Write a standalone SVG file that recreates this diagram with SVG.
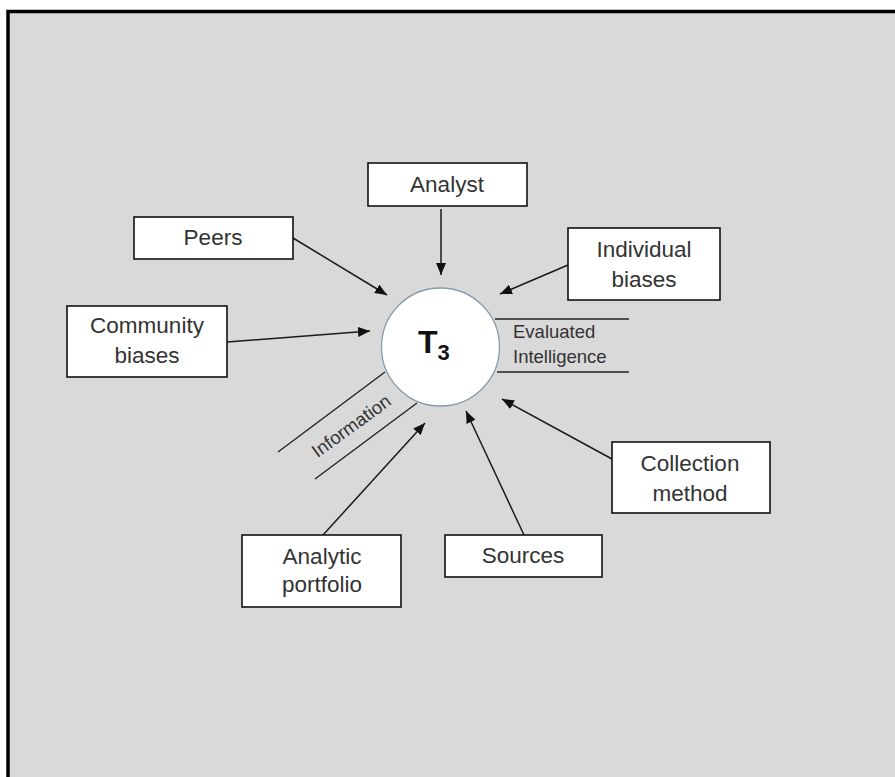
<svg xmlns="http://www.w3.org/2000/svg" width="895" height="777" viewBox="0 0 895 777">
<style>
.box{fill:#fff;stroke:#111;stroke-width:1.6}
.lbl{font-family:"Liberation Sans",Arial,sans-serif;font-size:22.5px;fill:#333;text-anchor:middle}
.sm{font-family:"Liberation Sans",Arial,sans-serif;font-size:18.5px;fill:#333}
.arr{stroke:#1a1a1a;stroke-width:1.5;fill:none;marker-end:url(#ah)}
.ln{stroke:#222;stroke-width:1.4;fill:none}
</style>
<defs>
<marker id="ah" viewBox="0 0 12 10" refX="12" refY="5" markerWidth="12" markerHeight="10" markerUnits="userSpaceOnUse" orient="auto">
<path d="M0,0 L12,5 L0,10 Z" fill="#111"/>
</marker>
</defs>
<rect x="0" y="0" width="895" height="777" fill="#fff"/>
<rect x="8" y="11.5" width="900" height="800" fill="#d9d9d9" stroke="#000" stroke-width="3.5"/>
<g id="connectors">
<line class="arr" x1="441" y1="209" x2="441" y2="275"/>
<line class="arr" x1="293" y1="238" x2="387" y2="295"/>
<line class="arr" x1="568" y1="265" x2="500" y2="294"/>
<line class="arr" x1="227" y1="342" x2="370" y2="331"/>
<line class="arr" x1="323" y1="535" x2="425" y2="423"/>
<line class="arr" x1="524" y1="535" x2="466" y2="411"/>
<line class="arr" x1="612" y1="459" x2="502" y2="399"/>
<line class="ln" x1="495" y1="319" x2="629" y2="319"/>
<line class="ln" x1="497" y1="372" x2="629" y2="372"/>
<line class="ln" x1="278" y1="452" x2="385" y2="372"/>
<line class="ln" x1="315" y1="479" x2="417" y2="403"/>
<text class="sm" x="513" y="338">Evaluated</text>
<text class="sm" x="513" y="363">Intelligence</text>
<text class="sm" text-anchor="middle" transform="translate(355,431) rotate(-36)">Information</text>
</g>
<g id="t3">
<circle cx="440.5" cy="347" r="59" fill="#fff" stroke="#8a9bab" stroke-width="1.3"/>
<text x="418" y="353" font-family="Liberation Sans,Arial,sans-serif" font-weight="bold" font-size="32" fill="#111">T<tspan font-size="22" dy="7">3</tspan></text>
</g>
<g id="analyst">
<rect class="box" x="368" y="163" width="159" height="43"/>
<text class="lbl" x="447" y="192">Analyst</text>
</g>
<g id="peers">
<rect class="box" x="134" y="217" width="159" height="42"/>
<text class="lbl" x="213" y="245">Peers</text>
</g>
<g id="individual">
<rect class="box" x="568" y="228" width="152" height="72"/>
<text class="lbl" x="644" y="257">Individual</text>
<text class="lbl" x="644" y="287">biases</text>
</g>
<g id="community">
<rect class="box" x="67" y="306" width="160" height="71"/>
<text class="lbl" x="147" y="333">Community</text>
<text class="lbl" x="147" y="363">biases</text>
</g>
<g id="collection">
<rect class="box" x="612" y="442" width="158" height="71"/>
<text class="lbl" x="690" y="471">Collection</text>
<text class="lbl" x="690" y="501">method</text>
</g>
<g id="analytic">
<rect class="box" x="242" y="535" width="159" height="72"/>
<text class="lbl" x="322" y="564">Analytic</text>
<text class="lbl" x="322" y="592">portfolio</text>
</g>
<g id="sources">
<rect class="box" x="445" y="535" width="157" height="42"/>
<text class="lbl" x="523" y="563">Sources</text>
</g>
</svg>
